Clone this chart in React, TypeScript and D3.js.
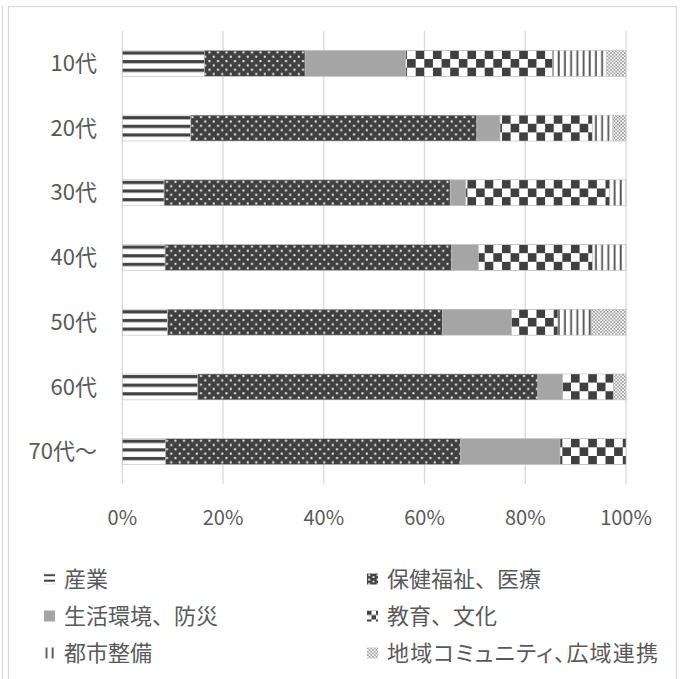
import React, { useEffect, useRef } from 'react';
import * as d3 from 'd3';

// 年代別・分野別の割合（%）
const categories = ['10代', '20代', '30代', '40代', '50代', '60代', '70代～'];
const seriesNames = ['産業', '保健福祉、医療', '生活環境、防災', '教育、文化', '都市整備', '地域コミュニティ、広域連携'];
const sangyo = [16.3, 13.6, 8.3, 8.5, 9.0, 15.0, 8.6];
const hoken = [20.0, 56.8, 56.8, 56.9, 54.6, 67.5, 58.6];
const seikatsu = [20.0, 4.6, 3.1, 5.3, 13.7, 4.9, 19.7];
const kyoiku = [29.1, 18.3, 28.6, 22.7, 9.2, 10.1, 13.1];
const toshi = [10.8, 4.1, 3.2, 6.6, 6.6, 0, 0];
const chiiki = [3.8, 2.6, 0, 0, 6.9, 2.5, 0];
const ticks = [0, 0.2, 0.4, 0.6, 0.8, 1];

const seriesValues = [sangyo, hoken, seikatsu, kyoiku, toshi, chiiki];
const patternKinds = ['hlines', 'dots', 'solid', 'checker', 'vlines', 'fine'];

const W = 685;
const H = 679;
const DARK = '#404040';
const TEXT = '#595959';
const FONT = '"Noto Sans CJK JP", "Noto Sans", sans-serif';

type Row = { cat: string; [k: string]: any };

// 模様を作る。u はタイルの単位（バー高さ / 3）
function buildPattern(defs: any, id: string, kind: string, x0: number, y0: number, u: number) {
  const p = defs.append('pattern')
    .attr('id', id)
    .attr('patternUnits', 'userSpaceOnUse')
    .attr('x', x0)
    .attr('y', y0);

  if (kind === 'hlines') {
    p.attr('width', 8).attr('height', u);
    p.append('rect').attr('width', 8).attr('height', u).attr('fill', '#fff');
    p.append('rect').attr('y', u * 0.12).attr('width', 8).attr('height', u * 0.37).attr('fill', DARK);
  } else if (kind === 'dots') {
    const w = 8.5;
    p.attr('width', w).attr('height', u);
    p.append('rect').attr('width', w).attr('height', u).attr('fill', DARK);
    p.append('rect').attr('x', 1.2).attr('y', u * 0.12).attr('width', 2).attr('height', 2).attr('fill', '#f2f2f2');
    p.append('rect').attr('x', 1.2 + w / 2).attr('y', u * 0.62).attr('width', 2).attr('height', 2).attr('fill', '#f2f2f2');
  } else if (kind === 'solid') {
    p.attr('width', 4).attr('height', 4);
    p.append('rect').attr('width', 4).attr('height', 4).attr('fill', '#a5a5a5');
  } else if (kind === 'checker') {
    const s = u;
    p.attr('width', s * 2).attr('height', s * 2);
    p.append('rect').attr('width', s * 2).attr('height', s * 2).attr('fill', '#fff');
    p.append('rect').attr('width', s).attr('height', s).attr('fill', DARK);
    p.append('rect').attr('x', s).attr('y', s).attr('width', s).attr('height', s).attr('fill', DARK);
  } else if (kind === 'vlines') {
    p.attr('width', 6.2).attr('height', 10);
    p.append('rect').attr('width', 6.2).attr('height', 10).attr('fill', '#fff');
    p.append('rect').attr('x', 1.5).attr('width', 1.9).attr('height', 10).attr('fill', TEXT);
  } else {
    p.attr('width', 3.4).attr('height', 3.4);
    p.append('rect').attr('width', 3.4).attr('height', 3.4).attr('fill', '#fff');
    p.append('rect').attr('x', 0.2).attr('y', 0.2).attr('width', 1.3).attr('height', 1.3).attr('fill', TEXT);
    p.append('rect').attr('x', 1.9).attr('y', 1.9).attr('width', 1.3).attr('height', 1.3).attr('fill', TEXT);
  }
}

const App: React.FC = () => {
  const ref = useRef<SVGSVGElement | null>(null);

  useEffect(() => {
    if (!ref.current) return;
    const svg = d3.select(ref.current);
    svg.selectAll('*').remove();

    const rows: Row[] = categories.map((cat, i) => {
      const r: Row = { cat };
      seriesNames.forEach((s, j) => { r[s] = seriesValues[j][i]; });
      return r;
    });

    const stack = d3.stack<Row>()
      .keys(seriesNames)
      .offset(d3.stackOffsetExpand);
    const layers = stack(rows);

    const x = d3.scaleLinear().domain([0, 1]).range([122.3, 626]);
    const y = d3.scaleBand<string>()
      .domain(categories)
      .range([31, 484])
      .paddingInner(0.6)
      .paddingOuter(0.3);

    const defs = svg.append('defs');

    // 枠
    svg.append('rect')
      .attr('x', 8.5).attr('y', 6.5)
      .attr('width', 668).attr('height', 700)
      .attr('fill', '#fff')
      .attr('stroke', '#d9d9d9')
      .attr('stroke-width', 1.3);
    svg.append('line')
      .attr('x1', 2.5).attr('x2', 2.5)
      .attr('y1', 6).attr('y2', H)
      .attr('stroke', '#d9d9d9')
      .attr('stroke-width', 1.3);

    // 目盛線
    svg.append('g')
      .selectAll('line')
      .data(ticks)
      .join('line')
      .attr('x1', d => x(d)).attr('x2', d => x(d))
      .attr('y1', 31).attr('y2', 484)
      .attr('stroke', '#d9d9d9')
      .attr('stroke-width', 1.3);

    svg.append('g')
      .selectAll('text')
      .data(ticks)
      .join('text')
      .attr('x', d => x(d))
      .attr('y', 518)
      .attr('dy', '0.35em')
      .attr('text-anchor', 'middle')
      .attr('fill', TEXT)
      .style('font-family', FONT)
      .style('font-size', '20px')
      .text(d => `${Math.round(d * 100)}%`);

    // カテゴリラベル
    svg.append('g')
      .selectAll('text')
      .data(categories)
      .join('text')
      .attr('x', 97)
      .attr('y', d => (y(d) ?? 0) + y.bandwidth() / 2)
      .attr('dy', '0.35em')
      .attr('text-anchor', 'end')
      .attr('fill', TEXT)
      .style('font-family', FONT)
      .style('font-size', '22px')
      .text(d => d);

    // 行ごとに模様を揃える
    const u = y.bandwidth() / 3;
    categories.forEach((c, ci) => {
      patternKinds.forEach((k, si) => {
        buildPattern(defs, `p-${si}-${ci}`, k, x(0), y(c) ?? 0, u);
      });
    });

    svg.append('g')
      .selectAll('g')
      .data(layers)
      .join('g')
      .each(function (layer, si) {
        d3.select(this)
          .selectAll('rect')
          .data(layer.filter(d => d[1] - d[0] > 0))
          .join('rect')
          .attr('x', d => x(d[0]))
          .attr('y', d => y(d.data.cat) ?? 0)
          .attr('width', d => x(d[1]) - x(d[0]))
          .attr('height', y.bandwidth())
          .attr('fill', d => `url(#p-${si}-${categories.indexOf(d.data.cat)})`)
          .attr('stroke', '#bdbdbd')
          .attr('stroke-width', 0.6);
      });

    // 凡例
    const legendX = [44, 367];
    const legendY = [579, 616, 653];
    const lg = svg.append('g');
    seriesNames.forEach((name, i) => {
      const lx = legendX[i % 2];
      const ly = legendY[Math.floor(i / 2)];
      const size = 11;
      const kana = /[\u30A0-\u30FF]/.test(name);
      buildPattern(defs, `lp-${i}`, patternKinds[i], lx, ly - size / 2, patternKinds[i] === 'hlines' ? 5.5 : 4.5);
      lg.append('rect')
        .attr('x', lx).attr('y', ly - size / 2)
        .attr('width', size).attr('height', size)
        .attr('fill', `url(#lp-${i})`);
      lg.append('text')
        .attr('x', lx + 20)
        .attr('y', ly)
        .attr('dy', '0.35em')
        .attr('fill', TEXT)
        .style('font-family', FONT)
        .style('font-size', '22px')
        .style('font-feature-settings', kana ? '"palt"' : 'normal')
        .style('letter-spacing', kana ? '1.2px' : '0px')
        .text(name);
    });
  }, []);

  return (
    <svg
      ref={ref}
      width={W}
      height={H}
      style={{ position: 'absolute', left: 0, top: 0, background: '#fff' }}
    />
  );
};

export default App;
